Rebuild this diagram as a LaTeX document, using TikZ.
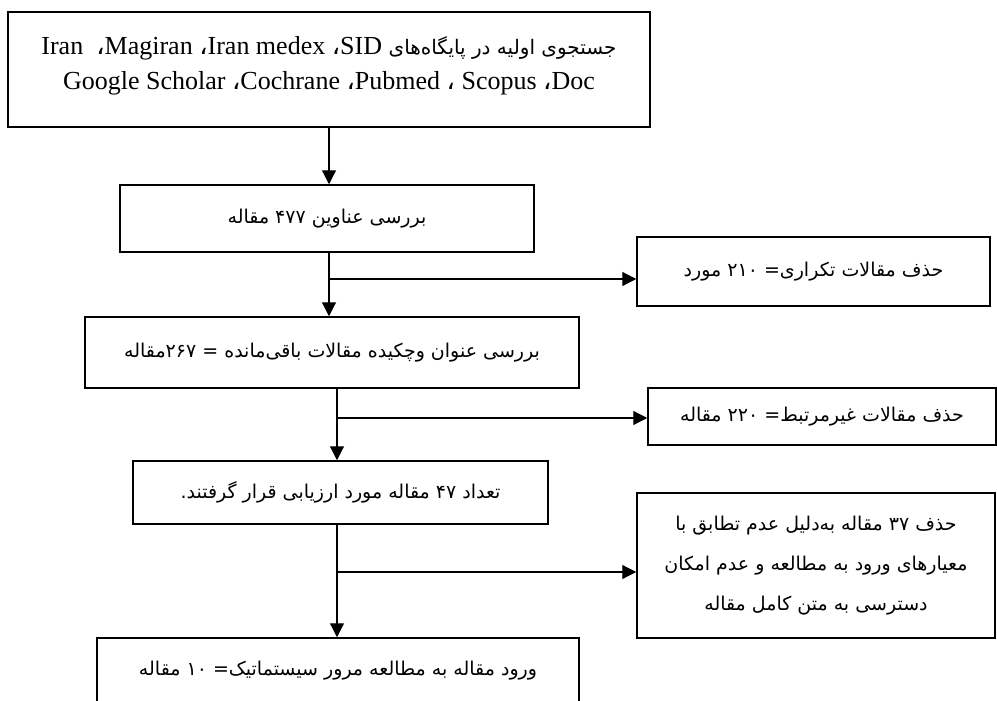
\documentclass[tikz,border=0pt]{standalone}
\usepackage{fontspec}
\usepackage{tikz}
\usetikzlibrary{arrows.meta,positioning}
\setmainfont{Liberation Serif}
\newfontfamily\farsi[Script=Arabic]{DejaVu Sans}
\TeXXeTstate=1

\begin{document}
\begin{tikzpicture}[x=1pt,y=-1pt,>={Triangle[length=14pt,width=14pt]},
      stagebox/.style={draw=black,line width=1.5pt,fill=white,align=center,
                    inner sep=0pt,font=\farsi\fontsize{19}{40}\selectfont},
      flow/.style={->,line width=1.2pt,draw=black}]
    \useasboundingbox (0,0) rectangle (997,701);
    \node[stagebox,minimum width=642pt,minimum height=115pt,
          font=\fontsize{26}{35}\selectfont] (search) at (329,69.5)
      {Iran\ \ {\farsi ،}Magiran {\farsi ،}Iran medex {\farsi ،}SID
       {\farsi\fontsize{20}{35}\selectfont\beginR جستجوی اولیه در پایگاه‌های\endR}\\
       Google Scholar {\farsi ،}Cochrane {\farsi ،}Pubmed {\farsi ،} Scopus {\farsi ،}Doc\\[-22pt]
       \mbox{}};
    \node[stagebox,minimum width=414pt,minimum height=67pt] (titles) at (327,218.5)
      {\beginR بررسی عناوین ۴۷۷ مقاله\endR};
    \node[stagebox,minimum width=353pt,minimum height=69pt] (dupes) at (813.5,271.5)
      {\beginR حذف مقالات تکراری= ۲۱۰ مورد\endR};
    \node[stagebox,minimum width=494pt,minimum height=71pt] (abstracts) at (332,352.5)
      {\beginR بررسی عنوان وچکیده مقالات باقی‌مانده = ۲۶۷مقاله\endR};
    \node[stagebox,minimum width=348pt,minimum height=57pt] (unrelated) at (822,416.5)
      {\beginR حذف مقالات غیرمرتبط= ۲۲۰ مقاله\endR};
    \node[stagebox,minimum width=415pt,minimum height=63pt] (eval) at (340.5,492.5)
      {\beginR تعداد ۴۷ مقاله مورد ارزیابی قرار گرفتند.\endR};
    \node[stagebox,minimum width=358pt,minimum height=145pt] (excluded) at (816,565.5)
      {\beginR حذف ۳۷ مقاله به‌دلیل عدم تطابق با\endR\\
       \beginR معیارهای ورود به مطالعه و عدم امکان\endR\\
       \beginR دسترسی به متن کامل مقاله\endR};
    \node[stagebox,minimum width=482pt,minimum height=65pt] (final) at (338,670.5)
      {\beginR ورود مقاله به مطالعه مرور سیستماتیک= ۱۰ مقاله\endR};
    \coordinate (b1) at (329,279);
    \coordinate (b2) at (337,418);
    \coordinate (b3) at (337,572);
    \draw[flow] (search.south -| b1) -- (b1 |- titles.north);
    \draw[flow] (titles.south -| b1) -- (b1 |- abstracts.north);
    \draw[flow] (b1) -- (b1 -| dupes.west);
    \draw[flow] (abstracts.south -| b2) -- (b2 |- eval.north);
    \draw[flow] (b2) -- (b2 -| unrelated.west);
    \draw[flow] (eval.south -| b3) -- (b3 |- final.north);
    \draw[flow] (b3) -- (b3 -| excluded.west);
\end{tikzpicture}
\end{document}
